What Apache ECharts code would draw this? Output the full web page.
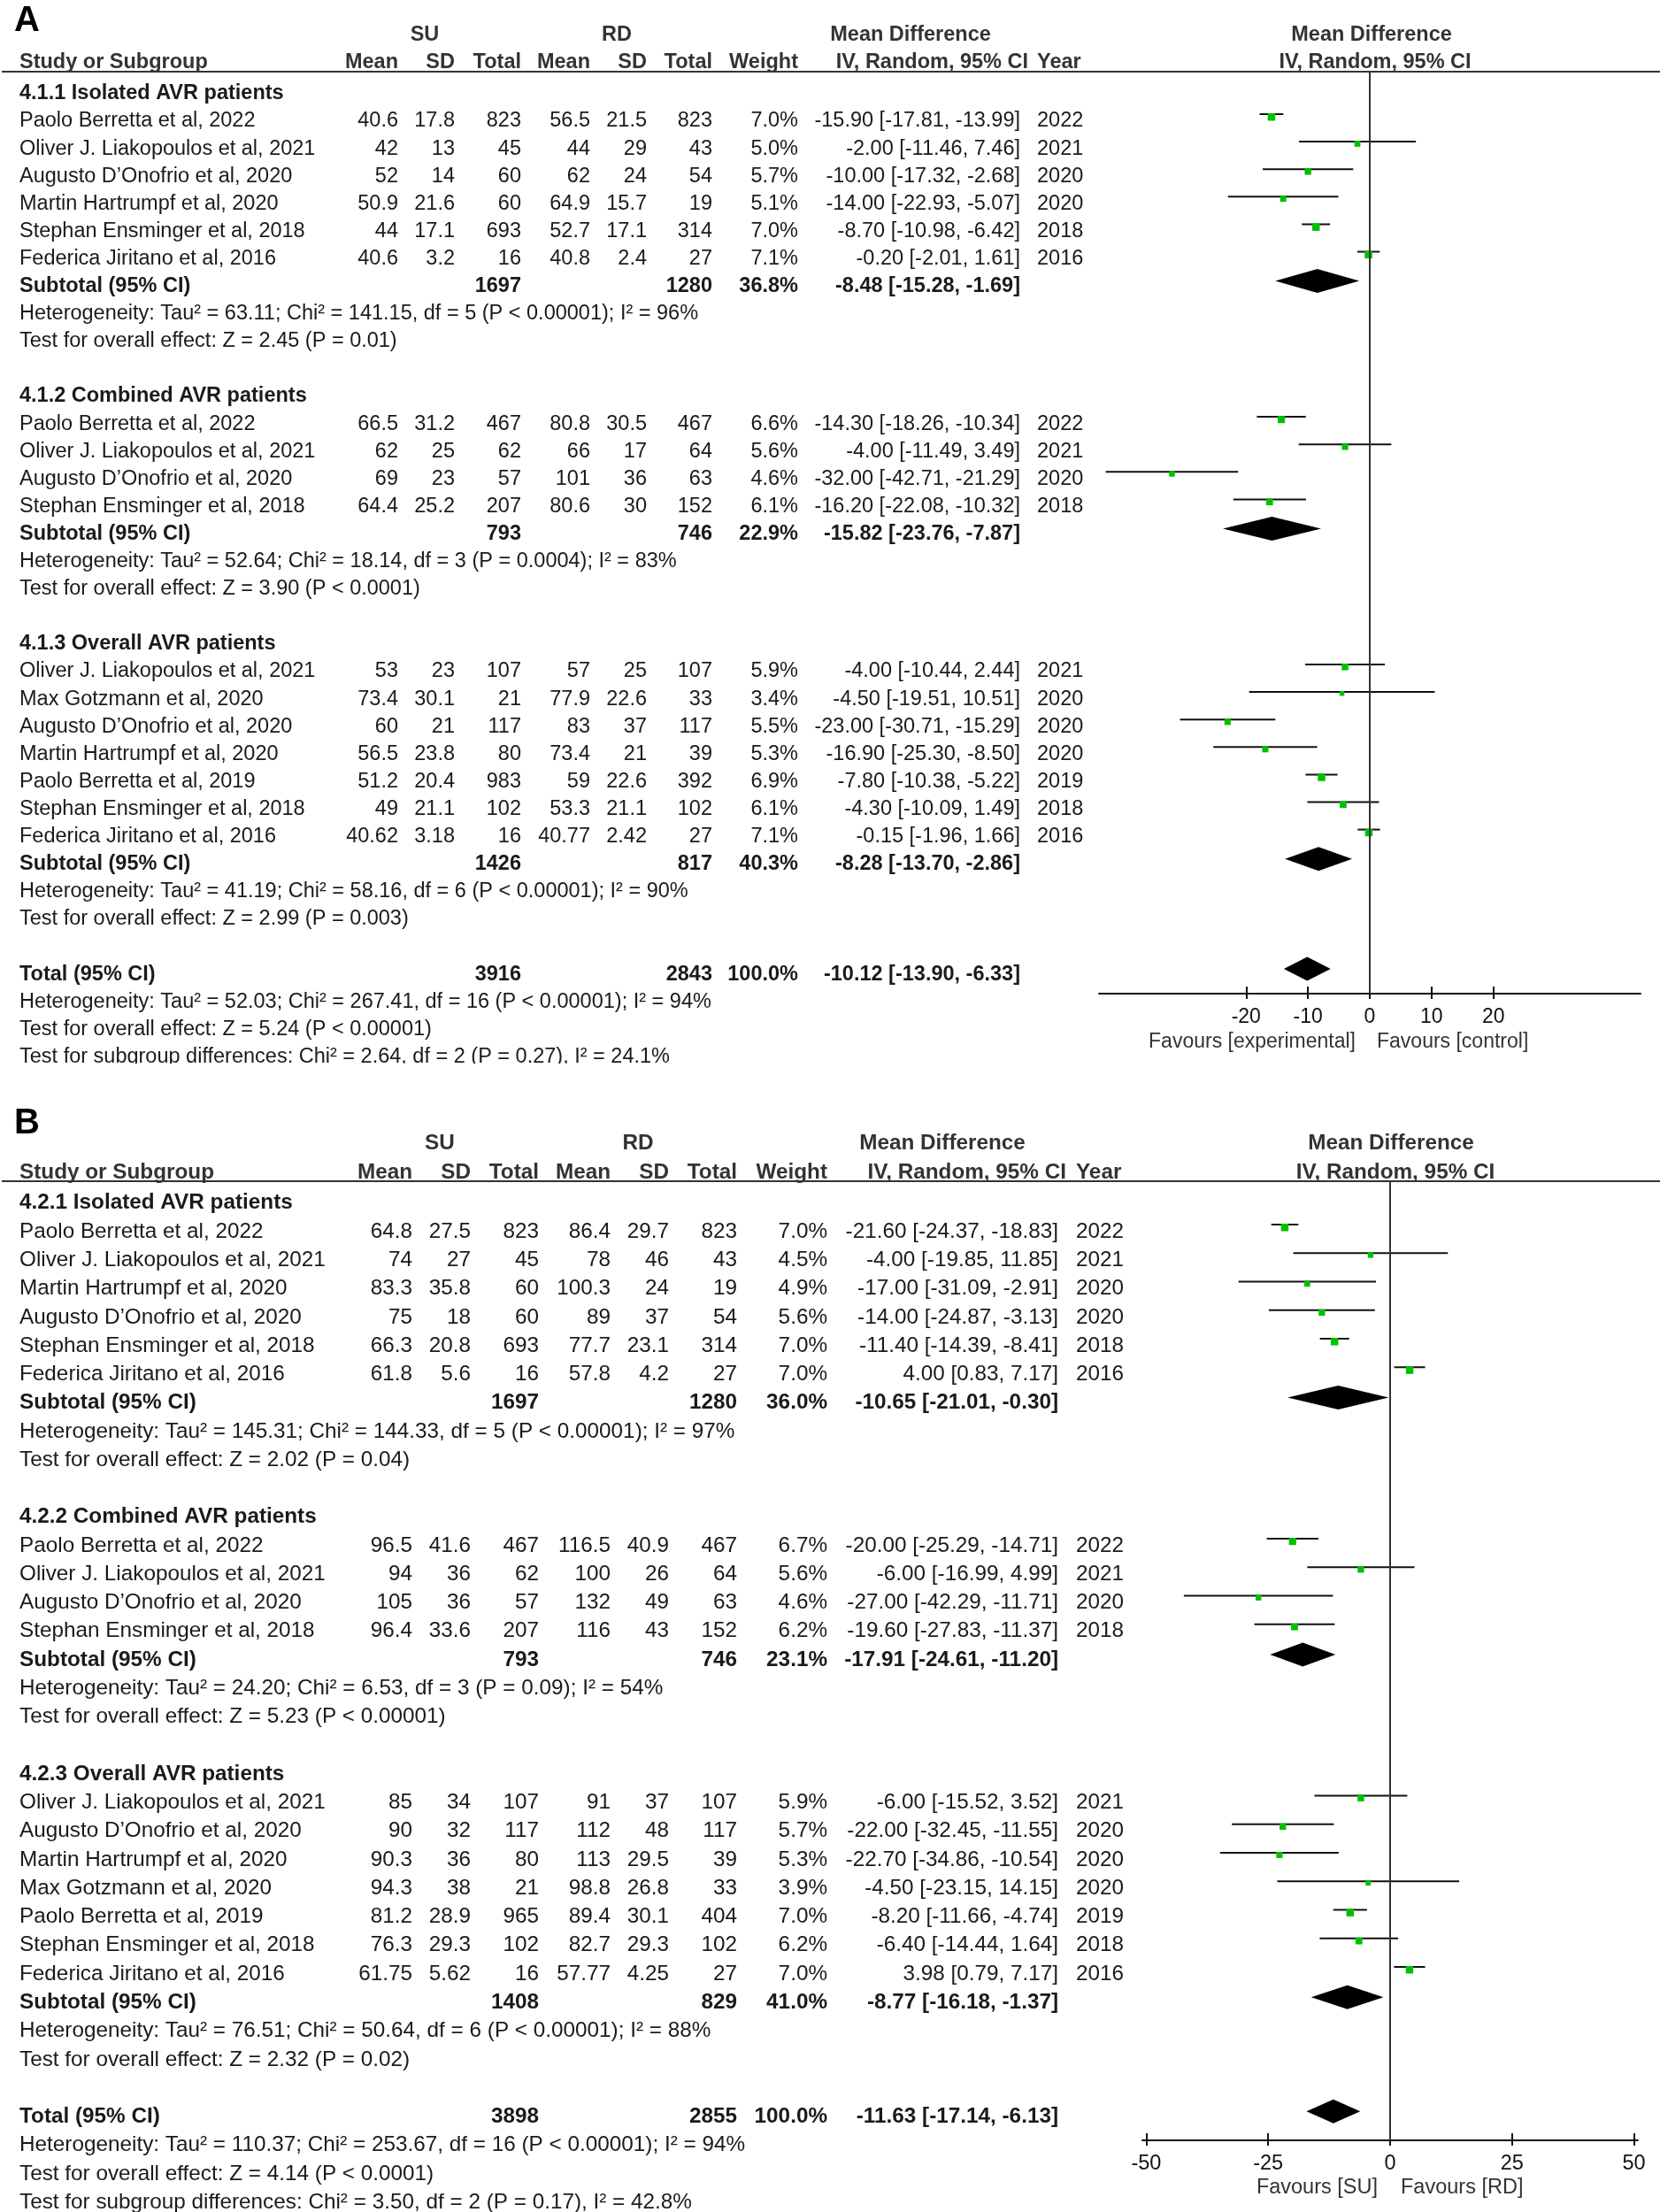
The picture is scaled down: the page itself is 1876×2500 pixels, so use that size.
<!DOCTYPE html>
<html>
<head>
<meta charset="utf-8">
<script src="https://cdn.jsdelivr.net/npm/echarts@6.0.0/dist/echarts.min.js"></script>
<style>
html,body{margin:0;padding:0;background:#fff;}
#chart{width:1876px;height:2500px;}
</style>
</head>
<body>
<div id="chart"></div>
<script>
// ---------------- Panel A data ----------------
const A_groupTitle = ['4.1.1 Isolated AVR patients', '4.1.2 Combined AVR patients', '4.1.3 Overall AVR patients'];
const A_study = ['Paolo Berretta et al, 2022', 'Oliver J. Liakopoulos et al, 2021', 'Augusto D\u2019Onofrio et al, 2020', 'Martin Hartrumpf et al, 2020', 'Stephan Ensminger et al, 2018', 'Federica Jiritano et al, 2016',
  'Paolo Berretta et al, 2022', 'Oliver J. Liakopoulos et al, 2021', 'Augusto D\u2019Onofrio et al, 2020', 'Stephan Ensminger et al, 2018',
  'Oliver J. Liakopoulos et al, 2021', 'Max Gotzmann et al, 2020', 'Augusto D\u2019Onofrio et al, 2020', 'Martin Hartrumpf et al, 2020', 'Paolo Berretta et al, 2019', 'Stephan Ensminger et al, 2018', 'Federica Jiritano et al, 2016'];
const A_group = [0,0,0,0,0,0, 1,1,1,1, 2,2,2,2,2,2,2];
const A_suMean = [40.6, 42, 52, 50.9, 44, 40.6, 66.5, 62, 69, 64.4, 53, 73.4, 60, 56.5, 51.2, 49, 40.62];
const A_suSD = [17.8, 13, 14, 21.6, 17.1, 3.2, 31.2, 25, 23, 25.2, 23, 30.1, 21, 23.8, 20.4, 21.1, 3.18];
const A_suN = [823, 45, 60, 60, 693, 16, 467, 62, 57, 207, 107, 21, 117, 80, 983, 102, 16];
const A_rdMean = [56.5, 44, 62, 64.9, 52.7, 40.8, 80.8, 66, 101, 80.6, 57, 77.9, 83, 73.4, 59, 53.3, 40.77];
const A_rdSD = [21.5, 29, 24, 15.7, 17.1, 2.4, 30.5, 17, 36, 30, 25, 22.6, 37, 21, 22.6, 21.1, 2.42];
const A_rdN = [823, 43, 54, 19, 314, 27, 467, 64, 63, 152, 107, 33, 117, 39, 392, 102, 27];
const A_weight = [7.0, 5.0, 5.7, 5.1, 7.0, 7.1, 6.6, 5.6, 4.6, 6.1, 5.9, 3.4, 5.5, 5.3, 6.9, 6.1, 7.1];
const A_md = [-15.90, -2.00, -10.00, -14.00, -8.70, -0.20, -14.30, -4.00, -32.00, -16.20, -4.00, -4.50, -23.00, -16.90, -7.80, -4.30, -0.15];
const A_lo = [-17.81, -11.46, -17.32, -22.93, -10.98, -2.01, -18.26, -11.49, -42.71, -22.08, -10.44, -19.51, -30.71, -25.30, -10.38, -10.09, -1.96];
const A_hi = [-13.99, 7.46, -2.68, -5.07, -6.42, 1.61, -10.34, 3.49, -21.29, -10.32, 2.44, 10.51, -15.29, -8.50, -5.22, 1.49, 1.66];
const A_year = [2022, 2021, 2020, 2020, 2018, 2016, 2022, 2021, 2020, 2018, 2021, 2020, 2020, 2020, 2019, 2018, 2016];
const A_subSuN = [1697, 793, 1426];
const A_subRdN = [1280, 746, 817];
const A_subW = [36.8, 22.9, 40.3];
const A_subMD = [-8.48, -15.82, -8.28];
const A_subLo = [-15.28, -23.76, -13.70];
const A_subHi = [-1.69, -7.87, -2.86];
const A_het = ['Heterogeneity: Tau\u00b2 = 63.11; Chi\u00b2 = 141.15, df = 5 (P < 0.00001); I\u00b2 = 96%',
  'Heterogeneity: Tau\u00b2 = 52.64; Chi\u00b2 = 18.14, df = 3 (P = 0.0004); I\u00b2 = 83%',
  'Heterogeneity: Tau\u00b2 = 41.19; Chi\u00b2 = 58.16, df = 6 (P < 0.00001); I\u00b2 = 90%'];
const A_test = ['Test for overall effect: Z = 2.45 (P = 0.01)', 'Test for overall effect: Z = 3.90 (P < 0.0001)', 'Test for overall effect: Z = 2.99 (P = 0.003)'];
const A_total = [3916, 2843, 100.0, -10.12, -13.90, -6.33];
const A_totalNotes = ['Heterogeneity: Tau\u00b2 = 52.03; Chi\u00b2 = 267.41, df = 16 (P < 0.00001); I\u00b2 = 94%',
  'Test for overall effect: Z = 5.24 (P < 0.00001)',
  'Test for subgroup differences: Chi\u00b2 = 2.64, df = 2 (P = 0.27), I\u00b2 = 24.1%'];
const A_ticks = [-20, -10, 0, 10, 20];
const A_favours = ['Favours [experimental]', 'Favours [control]'];

// ---------------- Panel B data ----------------
const B_groupTitle = ['4.2.1 Isolated AVR patients', '4.2.2 Combined AVR patients', '4.2.3 Overall AVR patients'];
const B_study = ['Paolo Berretta et al, 2022', 'Oliver J. Liakopoulos et al, 2021', 'Martin Hartrumpf et al, 2020', 'Augusto D\u2019Onofrio et al, 2020', 'Stephan Ensminger et al, 2018', 'Federica Jiritano et al, 2016',
  'Paolo Berretta et al, 2022', 'Oliver J. Liakopoulos et al, 2021', 'Augusto D\u2019Onofrio et al, 2020', 'Stephan Ensminger et al, 2018',
  'Oliver J. Liakopoulos et al, 2021', 'Augusto D\u2019Onofrio et al, 2020', 'Martin Hartrumpf et al, 2020', 'Max Gotzmann et al, 2020', 'Paolo Berretta et al, 2019', 'Stephan Ensminger et al, 2018', 'Federica Jiritano et al, 2016'];
const B_group = [0,0,0,0,0,0, 1,1,1,1, 2,2,2,2,2,2,2];
const B_suMean = [64.8, 74, 83.3, 75, 66.3, 61.8, 96.5, 94, 105, 96.4, 85, 90, 90.3, 94.3, 81.2, 76.3, 61.75];
const B_suSD = [27.5, 27, 35.8, 18, 20.8, 5.6, 41.6, 36, 36, 33.6, 34, 32, 36, 38, 28.9, 29.3, 5.62];
const B_suN = [823, 45, 60, 60, 693, 16, 467, 62, 57, 207, 107, 117, 80, 21, 965, 102, 16];
const B_rdMean = [86.4, 78, 100.3, 89, 77.7, 57.8, 116.5, 100, 132, 116, 91, 112, 113, 98.8, 89.4, 82.7, 57.77];
const B_rdSD = [29.7, 46, 24, 37, 23.1, 4.2, 40.9, 26, 49, 43, 37, 48, 29.5, 26.8, 30.1, 29.3, 4.25];
const B_rdN = [823, 43, 19, 54, 314, 27, 467, 64, 63, 152, 107, 117, 39, 33, 404, 102, 27];
const B_weight = [7.0, 4.5, 4.9, 5.6, 7.0, 7.0, 6.7, 5.6, 4.6, 6.2, 5.9, 5.7, 5.3, 3.9, 7.0, 6.2, 7.0];
const B_md = [-21.60, -4.00, -17.00, -14.00, -11.40, 4.00, -20.00, -6.00, -27.00, -19.60, -6.00, -22.00, -22.70, -4.50, -8.20, -6.40, 3.98];
const B_lo = [-24.37, -19.85, -31.09, -24.87, -14.39, 0.83, -25.29, -16.99, -42.29, -27.83, -15.52, -32.45, -34.86, -23.15, -11.66, -14.44, 0.79];
const B_hi = [-18.83, 11.85, -2.91, -3.13, -8.41, 7.17, -14.71, 4.99, -11.71, -11.37, 3.52, -11.55, -10.54, 14.15, -4.74, 1.64, 7.17];
const B_year = [2022, 2021, 2020, 2020, 2018, 2016, 2022, 2021, 2020, 2018, 2021, 2020, 2020, 2020, 2019, 2018, 2016];
const B_subSuN = [1697, 793, 1408];
const B_subRdN = [1280, 746, 829];
const B_subW = [36.0, 23.1, 41.0];
const B_subMD = [-10.65, -17.91, -8.77];
const B_subLo = [-21.01, -24.61, -16.18];
const B_subHi = [-0.30, -11.20, -1.37];
const B_het = ['Heterogeneity: Tau\u00b2 = 145.31; Chi\u00b2 = 144.33, df = 5 (P < 0.00001); I\u00b2 = 97%',
  'Heterogeneity: Tau\u00b2 = 24.20; Chi\u00b2 = 6.53, df = 3 (P = 0.09); I\u00b2 = 54%',
  'Heterogeneity: Tau\u00b2 = 76.51; Chi\u00b2 = 50.64, df = 6 (P < 0.00001); I\u00b2 = 88%'];
const B_test = ['Test for overall effect: Z = 2.02 (P = 0.04)', 'Test for overall effect: Z = 5.23 (P < 0.00001)', 'Test for overall effect: Z = 2.32 (P = 0.02)'];
const B_total = [3898, 2855, 100.0, -11.63, -17.14, -6.13];
const B_totalNotes = ['Heterogeneity: Tau\u00b2 = 110.37; Chi\u00b2 = 253.67, df = 16 (P < 0.00001); I\u00b2 = 94%',
  'Test for overall effect: Z = 4.14 (P < 0.0001)',
  'Test for subgroup differences: Chi\u00b2 = 3.50, df = 2 (P = 0.17), I\u00b2 = 42.8%'];
const B_ticks = [-50, -25, 0, 25, 50];
const B_favours = ['Favours [SU]', 'Favours [RD]'];

// ---------------- layout / style ----------------
const FONT = '"Liberation Sans", Arial, Helvetica, sans-serif';
const TXT = '#1a1a1a';
const SQ = '#00c000';

const LA = {
  fs: 23.5, tickFs: 23, rowTop: 129, step: 31.1, textOff: 8,
  gridLeft: 1242, gridWidth: 612, gridTop: 81, axisY: 1123, xMin: -43.8, xMax: 43.8,
  col: {study: 22, suMean: 450, suSD: 514, suN: 589, rdMean: 667, rdSD: 731, rdN: 805, w: 902, ci: 1153, year: 1172},
  head1Y: 40, head2Y: 71, su: 480, rd: 697, md: 1029, ivRight: 1162, mdRight: 1550, ivRightC: 1554,
  letter: 'A', letterY: 24, favY: 1178, favL: 1532, favR: 1556
};
const LB = {
  fs: 24.3, tickFs: 23.5, rowTop: 1384, step: 32.27, textOff: 8,
  gridLeft: 1291, gridWidth: 560, gridTop: 1335, axisY: 2419, xMin: -50.8, xMax: 50.8,
  col: {study: 22, suMean: 466, suSD: 532, suN: 609, rdMean: 690, rdSD: 756, rdN: 833, w: 935, ci: 1196, year: 1216},
  head1Y: 1292, head2Y: 1325, su: 497, rd: 721, md: 1065, ivRight: 1205, mdRight: 1572, ivRightC: 1577,
  letter: 'B', letterY: 1270, favY: 2473, favL: 1557, favR: 1583
};

function ciText(m, l, h) { return m.toFixed(2) + ' [' + l.toFixed(2) + ', ' + h.toFixed(2) + ']'; }

function buildPanel(d, L) {
  const C = L.col;
  const rows = [], ciData = [], diaData = [];
  let k0 = 0;
  const nG = d.groupTitle.length;
  let lastTest = 0;
  for (let g = 0; g < nG; g++) {
    rows.push({k: k0 - 1, cells: [{t: d.groupTitle[g], x: C.study, a: 'left', b: true}]});
    let k = k0;
    d.study.forEach((s, i) => {
      if (d.group[i] !== g) return;
      rows.push({k: k, cells: [
        {t: s, x: C.study, a: 'left'},
        {t: String(d.suMean[i]), x: C.suMean, a: 'right'},
        {t: String(d.suSD[i]), x: C.suSD, a: 'right'},
        {t: String(d.suN[i]), x: C.suN, a: 'right'},
        {t: String(d.rdMean[i]), x: C.rdMean, a: 'right'},
        {t: String(d.rdSD[i]), x: C.rdSD, a: 'right'},
        {t: String(d.rdN[i]), x: C.rdN, a: 'right'},
        {t: d.weight[i].toFixed(1) + '%', x: C.w, a: 'right'},
        {t: ciText(d.md[i], d.lo[i], d.hi[i]), x: C.ci, a: 'right'},
        {t: String(d.year[i]), x: C.year, a: 'left'}
      ]});
      ciData.push([d.md[i], d.lo[i], d.hi[i], k, d.weight[i]]);
      k++;
    });
    const sub = k;
    rows.push({k: sub, cells: [
      {t: 'Subtotal (95% CI)', x: C.study, a: 'left', b: true},
      {t: String(d.subSuN[g]), x: C.suN, a: 'right', b: true},
      {t: String(d.subRdN[g]), x: C.rdN, a: 'right', b: true},
      {t: d.subW[g].toFixed(1) + '%', x: C.w, a: 'right', b: true},
      {t: ciText(d.subMD[g], d.subLo[g], d.subHi[g]), x: C.ci, a: 'right', b: true}
    ]});
    diaData.push([d.subMD[g], d.subLo[g], d.subHi[g], sub]);
    rows.push({k: sub + 1, cells: [{t: d.het[g], x: C.study, a: 'left'}]});
    rows.push({k: sub + 2, cells: [{t: d.test[g], x: C.study, a: 'left'}]});
    lastTest = sub + 2;
    k0 = sub + 5;
  }
  const tk = lastTest + 2;
  const T = d.total;
  rows.push({k: tk, cells: [
    {t: 'Total (95% CI)', x: C.study, a: 'left', b: true},
    {t: String(T[0]), x: C.suN, a: 'right', b: true},
    {t: String(T[1]), x: C.rdN, a: 'right', b: true},
    {t: T[2].toFixed(1) + '%', x: C.w, a: 'right', b: true},
    {t: ciText(T[3], T[4], T[5]), x: C.ci, a: 'right', b: true}
  ]});
  diaData.push([T[3], T[4], T[5], tk]);
  d.totalNotes.forEach((n, j) => rows.push({k: tk + 1 + j, cells: [{t: n, x: C.study, a: 'left'}]}));
  return {rows, ciData, diaData};
}

const PA = buildPanel({groupTitle: A_groupTitle, study: A_study, group: A_group, suMean: A_suMean, suSD: A_suSD, suN: A_suN,
  rdMean: A_rdMean, rdSD: A_rdSD, rdN: A_rdN, weight: A_weight, md: A_md, lo: A_lo, hi: A_hi, year: A_year,
  subSuN: A_subSuN, subRdN: A_subRdN, subW: A_subW, subMD: A_subMD, subLo: A_subLo, subHi: A_subHi,
  het: A_het, test: A_test, total: A_total, totalNotes: A_totalNotes}, LA);
const PB = buildPanel({groupTitle: B_groupTitle, study: B_study, group: B_group, suMean: B_suMean, suSD: B_suSD, suN: B_suN,
  rdMean: B_rdMean, rdSD: B_rdSD, rdN: B_rdN, weight: B_weight, md: B_md, lo: B_lo, hi: B_hi, year: B_year,
  subSuN: B_subSuN, subRdN: B_subRdN, subW: B_subW, subMD: B_subMD, subLo: B_subLo, subHi: B_subHi,
  het: B_het, test: B_test, total: B_total, totalNotes: B_totalNotes}, LB);

function textRender(rows, L) {
  return function (params, api) {
    const r = rows[api.value(2)];
    const y = api.coord([0, api.value(1)])[1] + L.textOff;
    return {type: 'group', children: r.cells.map(c => ({
      type: 'text',
      style: {x: c.x, y: y, text: c.t, textAlign: c.a, textVerticalAlign: 'middle',
        font: (c.b ? 'bold ' : '') + L.fs + 'px ' + FONT, fill: TXT}
    }))};
  };
}
function ciRender(params, api) {
  const k = api.value(3);
  const pm = api.coord([api.value(0), k]);
  const pl = api.coord([api.value(1), k]);
  const ph = api.coord([api.value(2), k]);
  const s = 2.5 + 0.85 * api.value(4);
  return {type: 'group', children: [
    {type: 'line', shape: {x1: pl[0], y1: pl[1], x2: ph[0], y2: ph[1]}, style: {stroke: '#111', lineWidth: 2}},
    {type: 'rect', shape: {x: pm[0] - s / 2, y: pm[1] - 1, width: s, height: s}, style: {fill: SQ}}
  ]};
}
function diaRender(params, api) {
  const k = api.value(3);
  const c = api.coord([api.value(0), k]);
  const l = api.coord([api.value(1), k]);
  const h = api.coord([api.value(2), k]);
  const y = c[1] + 2, hh = 13.5;
  return {type: 'polygon', shape: {points: [[l[0], y], [c[0], y - hh], [h[0], y], [c[0], y + hh]]}, style: {fill: '#000'}};
}

function gridOf(L) {
  return {left: L.gridLeft, width: L.gridWidth, top: L.gridTop, height: L.axisY - L.gridTop, containLabel: false};
}
function xAxesOf(L, ticks, gi) {
  const h = L.axisY - L.gridTop;
  return [
    {type: 'value', gridIndex: gi, position: 'bottom', min: L.xMin, max: L.xMax,
      axisLine: {show: true, onZero: false, lineStyle: {color: '#111', width: 2}},
      axisTick: {show: true, customValues: ticks, length: 6, lineStyle: {color: '#111', width: 2}},
      axisLabel: {show: true, customValues: ticks, margin: 15, color: '#111', fontSize: L.tickFs, fontFamily: FONT},
      splitLine: {show: false}},
    {type: 'value', gridIndex: gi, position: 'top', offset: -h, min: L.xMin, max: L.xMax,
      axisLine: {show: false},
      axisTick: {show: true, customValues: ticks, length: 8, lineStyle: {color: '#111', width: 2}},
      axisLabel: {show: false}, splitLine: {show: false}}
  ];
}
function yAxisOf(L, gi) {
  return {type: 'value', gridIndex: gi, inverse: true, show: false,
    min: (L.gridTop - L.rowTop) / L.step, max: (L.axisY - L.rowTop) / L.step,
    splitLine: {show: false}};
}
function seriesOf(P, L, xi, yi) {
  return [
    {type: 'custom', xAxisIndex: xi, yAxisIndex: yi, renderItem: textRender(P.rows, L), clip: false, silent: true,
      data: P.rows.map((r, i) => [0, r.k, i]), encode: {x: 0, y: 1}, z: 3},
    {type: 'custom', xAxisIndex: xi, yAxisIndex: yi, renderItem: ciRender, clip: false, silent: true,
      data: P.ciData, encode: {x: [0, 1, 2], y: 3}, z: 4,
      markLine: {silent: true, symbol: ['none', 'none'], label: {show: false}, animation: false,
        lineStyle: {color: '#333', width: 2, type: 'solid'}, data: [{xAxis: 0}]}},
    {type: 'custom', xAxisIndex: xi, yAxisIndex: yi, renderItem: diaRender, clip: false, silent: true,
      data: P.diaData, encode: {x: [0, 1, 2], y: 3}, z: 5}
  ];
}

function headerOf(L, fav) {
  const bf = 'bold ' + L.fs + 'px ' + FONT;
  const t = (text, x, y, align, font, fill) => ({type: 'text', x: x, y: y,
    style: {text: text, textAlign: align, textVerticalAlign: 'middle', font: font, fill: fill || TXT}});
  const C = L.col;
  const els = [
    t(L.letter, LA.col.study - 6, L.letterY, 'left', 'bold 40px ' + FONT, '#000'),
    t('SU', L.su, L.head1Y, 'center', bf, '#333'),
    t('RD', L.rd, L.head1Y, 'center', bf, '#333'),
    t('Mean Difference', L.md, L.head1Y, 'center', bf, '#333'),
    t('Mean Difference', L.mdRight, L.head1Y, 'center', bf, '#333'),
    t('Study or Subgroup', C.study, L.head2Y, 'left', bf, '#333'),
    t('Mean', C.suMean, L.head2Y, 'right', bf, '#333'),
    t('SD', C.suSD, L.head2Y, 'right', bf, '#333'),
    t('Total', C.suN, L.head2Y, 'right', bf, '#333'),
    t('Mean', C.rdMean, L.head2Y, 'right', bf, '#333'),
    t('SD', C.rdSD, L.head2Y, 'right', bf, '#333'),
    t('Total', C.rdN, L.head2Y, 'right', bf, '#333'),
    t('Weight', C.w, L.head2Y, 'right', bf, '#333'),
    t('IV, Random, 95% CI', L.ivRight, L.head2Y, 'right', bf, '#333'),
    t('Year', C.year, L.head2Y, 'left', bf, '#333'),
    t('IV, Random, 95% CI', L.ivRightC, L.head2Y, 'center', bf, '#333'),
    {type: 'line', shape: {x1: 2, y1: L.gridTop, x2: 1876, y2: L.gridTop}, style: {stroke: '#333', lineWidth: 2}, z: 10},
    t(fav[0], L.favL, L.favY, 'right', L.tickFs + 'px ' + FONT, '#333'),
    t(fav[1], L.favR, L.favY, 'left', L.tickFs + 'px ' + FONT, '#333')
  ];
  return els;
}

const chart = echarts.init(document.getElementById('chart'), null, {renderer: 'canvas'});
chart.setOption({
  animation: false,
  backgroundColor: '#fff',
  grid: [gridOf(LA), gridOf(LB)],
  xAxis: xAxesOf(LA, A_ticks, 0).concat(xAxesOf(LB, B_ticks, 1)),
  yAxis: [yAxisOf(LA, 0), yAxisOf(LB, 1)],
  series: seriesOf(PA, LA, 0, 0).concat(seriesOf(PB, LB, 2, 1)),
  graphic: {elements: headerOf(LA, A_favours).concat(headerOf(LB, B_favours)).concat([
    {type: 'rect', shape: {x: 0, y: 1202, width: 1230, height: 40}, style: {fill: '#fff'}, z: 100}
  ])}
});
</script>
</body>
</html>
